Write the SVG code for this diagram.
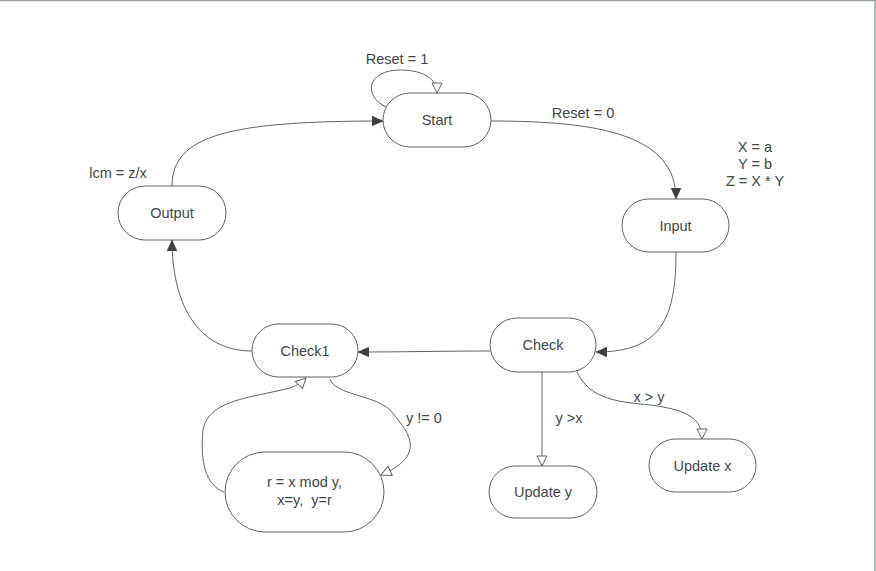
<svg xmlns="http://www.w3.org/2000/svg" width="876" height="571" viewBox="0 0 876 571">
<style>
.node rect{fill:#ffffff;stroke:#5f6368;stroke-width:1}
.node text,.lbl{font-family:"Liberation Sans",Arial,sans-serif;font-size:14.5px;fill:#42464c;text-anchor:middle;dominant-baseline:central}
.conn path{fill:none;stroke:#5f6368;stroke-width:1}
.f{marker-end:url(#af)}
.h{marker-end:url(#ah)}
</style>
<defs>
<marker id="af" viewBox="0 0 12 10" refX="11" refY="5" markerWidth="12" markerHeight="10" markerUnits="userSpaceOnUse" orient="auto">
<path d="M0,0 L11,5 L0,10 Z" fill="#3c4043" stroke="#3c4043" stroke-width="0.5"/>
</marker>
<marker id="ah" viewBox="0 0 12 12" refX="11" refY="6" markerWidth="12" markerHeight="12" markerUnits="userSpaceOnUse" orient="auto">
<path d="M1,1 L11,6 L1,11 Z" fill="#ffffff" stroke="#5f6368" stroke-width="1"/>
</marker>
</defs>
<rect x="0" y="0" width="876" height="571" fill="#ffffff"/>
<line x1="0" y1="0.5" x2="876" y2="0.5" stroke="#9aa0a6" stroke-width="1.5"/>
<line x1="875" y1="0" x2="875" y2="571" stroke="#9aa0a6" stroke-width="1.5"/>
<g class="conn">
<path class="f" d="M172,186 C172,135 230,121 383,121"/>
<path class="f" d="M491,121 C600,121 676,135 676,199"/>
<path class="h" d="M386,107 C362,95 368,70 400,70 C425,70 437,80 437,93"/>
<path class="f" d="M676,252 C676,320 660,352 596,352"/>
<path class="f" d="M490,351 C450,351 400,352 358,352"/>
<path class="f" d="M252,351 C195,351 172,300 172,240"/>
<path class="h" d="M542,372 L542,466"/>
<path class="h" d="M577,372 C590,400 620,402 650,405 C690,410 702,420 702,439"/>
<path class="h" d="M330,379 C335,395 375,395 390,410 C405,428 415,440 408,455 C402,465 392,470 381,475"/>
<path class="h" d="M224,492 C205,485 200,460 203,430 C208,400 250,398 290,388 C298,385 302,382 306,378"/>
</g>
<g class="lbl-group">
<text class="lbl" x="397" y="59">Reset = 1</text>
<text class="lbl" x="583" y="113">Reset = 0</text>
<text class="lbl" x="755" y="147">X = a</text>
<text class="lbl" x="755" y="164">Y = b</text>
<text class="lbl" x="755" y="181">Z = X * Y</text>
<text class="lbl" x="118" y="173">lcm = z/x</text>
<text class="lbl" x="569" y="418">y &gt;x</text>
<text class="lbl" x="649" y="397">x &gt; y</text>
<text class="lbl" x="424" y="418">y != 0</text>
</g>
<g id="start" class="node"><rect x="383" y="93" width="108" height="54" rx="27"/><text x="437" y="120">Start</text></g>
<g id="input" class="node"><rect x="622" y="199" width="107" height="53" rx="26.5"/><text x="675.5" y="225.5">Input</text></g>
<g id="output" class="node"><rect x="118" y="186" width="108" height="54" rx="27"/><text x="172" y="213">Output</text></g>
<g id="check1" class="node"><rect x="252" y="324" width="106" height="53" rx="26.5"/><text x="305" y="350.5">Check1</text></g>
<g id="check" class="node"><rect x="490" y="318" width="106" height="54" rx="27"/><text x="543" y="345">Check</text></g>
<g id="calc" class="node"><rect x="225" y="452" width="159" height="80" rx="40"/><text x="304.5" y="482">r = x mod y,</text><text x="304.5" y="500" style="white-space:pre" xml:space="preserve">x=y,  y=r</text></g>
<g id="updatey" class="node"><rect x="489" y="466" width="108" height="52" rx="26"/><text x="543" y="492">Update y</text></g>
<g id="updatex" class="node"><rect x="649" y="439" width="107" height="53" rx="26.5"/><text x="702.5" y="465.5">Update x</text></g>
</svg>
